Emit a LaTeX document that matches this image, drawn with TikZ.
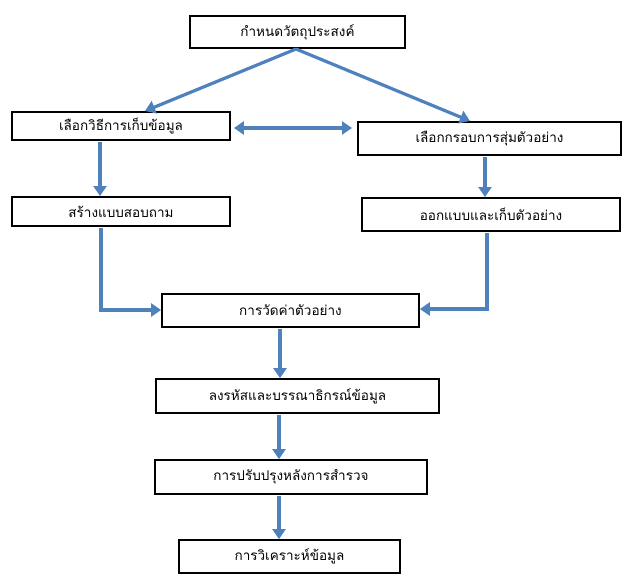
\documentclass[tikz,border=0pt]{standalone}
\usepackage{fontspec}
\newfontfamily\thaifont[Script=Thai]{Loma}
\usetikzlibrary{arrows.meta}
\definecolor{arrowblue}{HTML}{4F81BD}
\begin{document}
\begin{tikzpicture}[x=1pt,y=-1pt,
  boxst/.style={draw=black,line width=1.8pt,fill=white,inner sep=0pt,font=\thaifont\fontsize{13.5}{15}\selectfont},
  arr/.style={draw=arrowblue,line width=3.2pt,-{Triangle[length=10pt,width=13pt]}},
  darr/.style={draw=arrowblue,line width=3.2pt,{Triangle[length=10pt,width=13pt]}-{Triangle[length=10pt,width=13pt]}}]
\useasboundingbox (0,0) rectangle (633,584);
\node[boxst,minimum width=215pt,minimum height=32pt] (b1) at (297.5,32) {กำหนดวัตถุประสงค์};
\node[boxst,minimum width=218pt,minimum height=28pt] (b2) at (121,126) {เลือกวิธีการเก็บข้อมูล};
\node[boxst,minimum width=263pt,minimum height=33pt] (b3) at (489.5,138.5) {เลือกกรอบการสุ่มตัวอย่าง};
\node[boxst,minimum width=218pt,minimum height=29pt] (b4) at (121,211.5) {สร้างแบบสอบถาม};
\node[boxst,minimum width=258pt,minimum height=33pt] (b5) at (491,214.5) {ออกแบบและเก็บตัวอย่าง};
\node[boxst,minimum width=257pt,minimum height=33pt] (b6) at (290.5,310.5) {การวัดค่าตัวอย่าง};
\node[boxst,minimum width=283pt,minimum height=34pt] (b7) at (297.5,396) {ลงรหัสและบรรณาธิกรณ์ข้อมูล};
\node[boxst,minimum width=272pt,minimum height=34pt] (b8) at (291,477) {การปรับปรุงหลังการสำรวจ};
\node[boxst,minimum width=221pt,minimum height=33pt] (b9) at (289.5,556.5) {การวิเคราะห์ข้อมูล};
\coordinate (top) at (296,49);
\draw[arr] (top) -- (145,111);
\draw[arr] (top) -- (470,121);
\draw[darr] (b2.east|-0,128) ++(3,0) -- (352,128);
\draw[arr] (b2.south-|100,0) ++(0,1) -- (100,196);
\draw[arr] (b3.south-|485,0) ++(0,1) -- (485,197);
\draw[arr] (b4.south-|101,0) ++(0,1) |- (b6.west|-0,310);
\draw[arr] (b5.south-|487,0) ++(0,1) |- (b6.east|-0,309);
\draw[arr] (b6.south-|280,0) ++(0,1) -- (b7.north-|280,0);
\draw[arr] (b7.south-|279,0) ++(0,1) -- (b8.north-|279,0);
\draw[arr] (b8.south-|279,0) ++(0,1) -- (b9.north-|279,0);
\end{tikzpicture}
\end{document}
